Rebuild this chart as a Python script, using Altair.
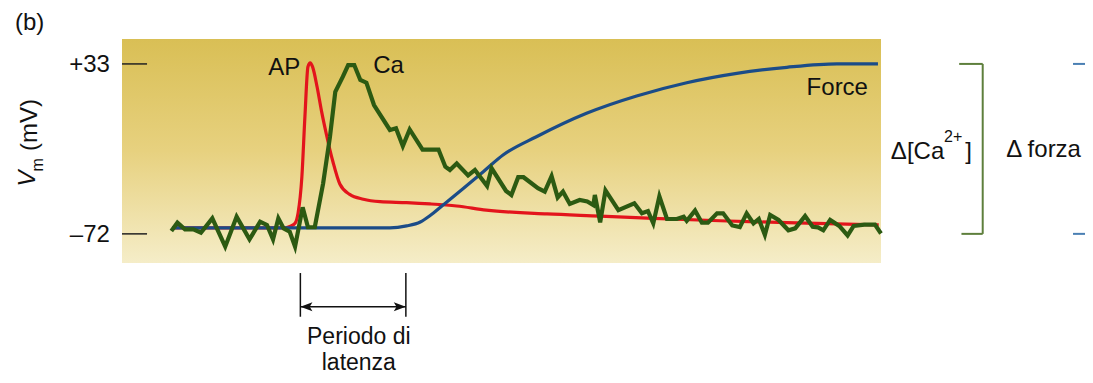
import altair as alt
import pandas as pd

# ---------------- data (time in arbitrary units 0-100, membrane potential in mV) -------------
ca_time = [6.5, 7.3, 8.3, 9.4, 10.4, 11.9, 13.6, 15.1, 16.8, 18.2, 19.1, 19.9, 20.6, 21.3, 22.1,
           22.8, 23.8, 24.5, 25.4, 26.5, 27.4, 28.1, 29.1, 29.8, 30.6, 31.4, 32.2, 33.2, 35.3,
           36.1, 37.0, 37.9, 39.6, 41.7, 42.6, 43.2, 44.1, 45.6, 46.5, 48.1, 48.7, 50.6, 51.3,
           52.2, 52.9, 54.8, 55.7, 56.6, 57.4, 58.1, 59.0, 60.3, 61.3, 62.1, 62.3, 63.0, 63.7,
           65.4, 67.5, 68.5, 69.3, 70.0, 70.8, 71.8, 73.1, 74.0, 74.4, 75.5, 76.4, 77.2, 78.4,
           79.2, 80.4, 81.4, 82.3, 83.2, 83.9, 84.7, 85.4, 86.5, 87.8, 88.7, 90.0, 91.0, 91.7,
           92.4, 93.3, 94.5, 95.6, 96.4, 97.8, 99.2, 100.0]
ca_value = [-70.2, -65.1, -69.2, -69.2, -71.3, -62.4, -79.9, -61.4, -75.4, -64.5, -66.5, -75.4,
            -62.4, -68.6, -70.7, -79.9, -55.6, -67.9, -67.9, -40.8, -12.0, 15.8, 25.1, 32.3,
            32.3, 23.1, 21.4, 7.6, -7.8, -6.8, -17.7, -7.5, -19.9, -19.9, -30.5, -32.5, -28.5,
            -35.9, -32.5, -42.4, -31.5, -45.5, -48.0, -37.0, -37.0, -43.8, -45.9, -36.4, -49.5,
            -45.9, -53.5, -51.1, -52.0, -54.2, -48.0, -64.9, -45.1, -57.3, -53.1, -59.3, -57.9,
            -65.5, -48.8, -62.7, -62.8, -61.4, -63.9, -57.6, -65.1, -65.1, -59.3, -59.3, -66.8,
            -67.8, -59.3, -65.5, -62.8, -72.7, -60.3, -63.4, -69.8, -68.6, -61.0, -67.6, -68.0,
            -69.8, -63.4, -67.1, -73.0, -67.1, -66.3, -66.3, -71.8]

ap_time = [6.6, 21.5, 22.2, 22.8, 23.2, 23.7, 24.1, 24.5, 24.8, 25.1, 25.7, 26.3, 27.0, 27.4,
           27.8, 28.7, 30.0, 31.8, 34.0, 37.5, 40.6, 44.1, 48.0, 56.0, 63.0, 70.0, 78.8, 87.6, 99.7]
ap_value = [-68.3, -68.3, -67.3, -65.5, -59.1, -36.7, 0.4, 31.3, 33.6, 31.3, 18.9, 3.5, -12.0,
            -20.2, -27.6, -41.2, -47.6, -50.6, -52.1, -52.7, -53.5, -54.8, -57.3, -59.7, -61.0,
            -62.4, -63.9, -65.1, -66.5]

force_time = [6.6, 35.3, 37.5, 39.3, 40.6, 42.3, 45.0, 47.6, 50.2, 54.6, 61.2, 67.8, 74.4,
              81.0, 87.6, 94.2, 99.6]
force_value = [-68.3, -68.3, -67.1, -64.7, -60.7, -54.2, -43.8, -33.6, -23.3, -12.0, 2.5, 13.2,
               21.4, 27.2, 30.9, 33.0, 33.0]

tick_values = [33, -72]
tick_labels = ["+33", "–72"]

# ---------------- scales & helpers ----------------
X = alt.Scale(domain=[0, 100], nice=False, zero=False)
Y = alt.Scale(domain=[-90, 48.4], nice=False, zero=False)
FONT = "Liberation Sans"


def xenc(f="t"):
    return alt.X(f"{f}:Q", scale=X, axis=None)


def yenc(f="v"):
    return alt.Y(f"{f}:Q", scale=Y, axis=None)


def label(text, t, v, size=24, align="left", baseline="alphabetic", angle=0,
          style="normal", color="#111111"):
    df = pd.DataFrame({"t": [t], "v": [v], "s": [text]})
    kw = dict(font=FONT, fontSize=size, align=align, baseline=baseline,
              fontStyle=style, color=color)
    if angle:
        kw["angle"] = angle
    return alt.Chart(df).mark_text(**kw).encode(x=xenc(), y=yenc(), text="s:N")


def rules(rows, color, width):
    df = pd.DataFrame(rows, columns=["t", "t2", "v", "v2"])
    return alt.Chart(df).mark_rule(color=color, strokeWidth=width).encode(
        x=xenc(), x2="t2:Q", y=yenc(), y2="v2:Q")


# background gradient
bg_df = pd.DataFrame({"t": [0], "t2": [100], "v": [-90], "v2": [48.4]})
background = alt.Chart(bg_df).mark_rect(
    fill={"gradient": "linear", "x1": 0, "x2": 0, "y1": 0, "y2": 1,
          "stops": [{"offset": 0, "color": "#d9bf55"},
                    {"offset": 0.5, "color": "#e7d17f"},
                    {"offset": 1, "color": "#f5edc8"}]}
).encode(x=xenc(), x2="t2:Q", y=yenc(), y2="v2:Q")

ap_df = pd.DataFrame({"t": ap_time, "v": ap_value})
ca_df = pd.DataFrame({"t": ca_time, "v": ca_value})
force_df = pd.DataFrame({"t": force_time, "v": force_value})

ap_line = alt.Chart(ap_df).mark_line(color="#e3141c", strokeWidth=3.2,
                                     interpolate="monotone").encode(x=xenc(), y=yenc())
force_line = alt.Chart(force_df).mark_line(color="#1b4c88", strokeWidth=3.2,
                                           interpolate="monotone").encode(x=xenc(), y=yenc())
ca_line = alt.Chart(ca_df).mark_line(color="#2c5a12", strokeWidth=4.2,
                                     strokeJoin="miter").encode(x=xenc(), y=yenc())

# y ticks and labels
tick_rows = [[0, 3.3, v, v] for v in tick_values]
y_ticks = rules(tick_rows, "#222222", 1.5)
tick_df = pd.DataFrame({"t": [-1.6] * len(tick_values), "v": tick_values, "s": tick_labels})
y_tick_labels = alt.Chart(tick_df).mark_text(
    font=FONT, fontSize=24, align="right", baseline="middle", color="#111111", dy=1
).encode(x=xenc(), y=yenc(), text="s:N")

# latency annotation
latency_rules = rules([[23.5, 23.5, -96.2, -123.2],
                       [37.4, 37.4, -96.2, -123.2],
                       [23.5, 37.4, -117.0, -117.0]], "#111111", 1.5)
arrow_left = alt.Chart(pd.DataFrame({"t": [24.3], "v": [-117.0]})).mark_point(
    shape="M -1 0 L 1 -0.75 L 0.55 0 L 1 0.75 Z", filled=True, size=144,
    color="#111111", opacity=1).encode(x=xenc(), y=yenc())
arrow_right = alt.Chart(pd.DataFrame({"t": [36.6], "v": [-117.0]})).mark_point(
    shape="M 1 0 L -1 -0.75 L -0.55 0 L -1 0.75 Z", filled=True, size=144,
    color="#111111", opacity=1).encode(x=xenc(), y=yenc())

# brackets on the right
ca_bracket = rules([[110.3, 113.4, 33, 33],
                    [113.4, 113.4, 33, -72],
                    [110.6, 113.4, -72, -72]], "#5e7f3c", 2)
force_ticks = rules([[125.3, 128.5, 33, 33],
                     [125.3, 128.5, -72, -72]], "#4a7fb3", 2)

texts = [
    label("(b)", -14.1, 54.0),
    label("AP", 23.5, 26.2, align="right"),
    label("Ca", 33.1, 27.2),
    label("Force", 90.2, 13.8),
    label("Periodo di", 31.2, -139.8, size=23, align="center"),
    label("latenza", 31.2, -155.9, size=23, align="center"),
    label("Δ[Ca", 101.3, -25.7),
    label("2+", 108.3, -15.0, size=16),
    label("]", 111.1, -25.7),
    label("Δ forza", 116.5, -24.5),
    # y-axis title V_m (mV), rotated
    label("V", -12.4, -37.8, align="center", baseline="middle", angle=270, style="italic"),
    label("m", -11.1, -29.4, size=16, align="center", baseline="middle", angle=270),
    label("(mV)", -12.1, -4.7, align="center", baseline="middle", angle=270),
]

chart = alt.layer(
    background, y_ticks, y_tick_labels, latency_rules, arrow_left, arrow_right,
    ca_bracket, force_ticks, ap_line, force_line, ca_line, *texts
).properties(
    width=759, height=224,
    padding={"left": 114, "top": 31, "right": 204, "bottom": 112},
    autosize=alt.AutoSizeParams(type="none"),
).configure_view(stroke=None)

chart.save("out.html", embed_options={"renderer": "svg", "actions": False})
